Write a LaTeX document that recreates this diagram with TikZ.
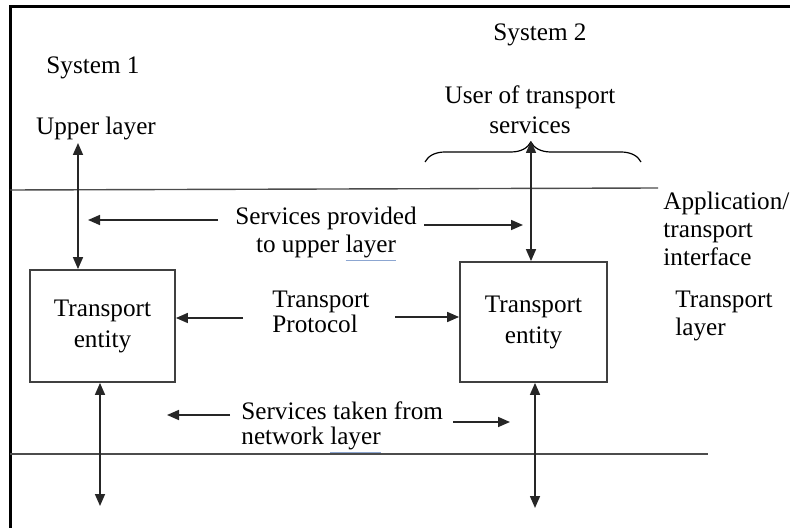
\documentclass[tikz,border=0pt]{standalone}
\usepackage{fontspec}
\setmainfont{Liberation Serif}
\usetikzlibrary{arrows.meta,decorations.pathreplacing}
\definecolor{ulcol}{rgb}{0.55,0.65,0.82}
\newcommand{\spellul}[1]{{\color{ulcol}\underline{\color{black}#1}}}
\begin{document}
\begin{tikzpicture}[x=0.5pt,y=-0.5pt,
  lbl/.style={font=\fontsize{12.6}{14}\selectfont, inner sep=0pt},
  box/.style={draw=black!75, line width=0.9pt, font=\fontsize{12.6}{15.5}\selectfont, align=center, inner sep=0pt},
  arr/.style={-{Triangle[length=6pt,width=5pt]}, line width=0.8pt, draw=black!85},
  biarr/.style={{Triangle[length=6pt,width=5pt]}-{Triangle[length=6pt,width=5pt]}, line width=0.8pt, draw=black!85},
  layerline/.style={line width=0.7pt, draw=black!70}]
\useasboundingbox (0,0) rectangle (790,528);
% frame
\draw[line width=1.5pt] (10,530) -- (10,7) -- (792,7);
% layer lines
\coordinate (l1a) at (10,190); \coordinate (l1b) at (658,188);
\coordinate (l2a) at (10,454); \coordinate (l2b) at (708,454);
\draw[layerline] (l1a) -- (l1b);
\draw[layerline] (l2a) -- (l2b);
% labels
\node[lbl] (sys1) at (93,68) {System 1};
\node[lbl] (sys2) at (540,35) {System 2};
\node[lbl] (upper) at (96,128) {Upper layer};
\node[lbl, align=center, font=\fontsize{12.6}{15}\selectfont] (user) at (530,110) {User of transport\\services};
\node[lbl, align=center] (sprov) at (326,234) {Services provided\\to upper \spellul{layer}};
\node[lbl, align=left, font=\fontsize{12.6}{12.5}\selectfont] (tprot) at (272,312) [anchor=west] {Transport\\Protocol};
\node[lbl, align=left] (tlayer) at (675,316) [anchor=west] {Transport\\layer};
\node[lbl, align=left, font=\fontsize{12.6}{12.5}\selectfont] (staken) at (241,428) [anchor=west] {Services taken from\\network \spellul{layer}};
\node[lbl, align=left] (appif) at (663,229) [anchor=west] {Application/\\transport\\interface};
% boxes
\node[box, minimum width=72.5pt, minimum height=56pt] (box1) at (102.5,326) {Transport\\entity};
\node[box, minimum width=73.5pt, minimum height=60pt] (box2) at (533.5,322) {Transport\\entity};
% brace
\coordinate (brL) at (425,162);
\coordinate (brR) at (641,162);
\draw[line width=0.6pt, decorate, decoration={brace, amplitude=10pt, aspect=0.49}] (brL) -- (brR);
\coordinate (brtip) at (531,141);
% vertical arrows
\coordinate (upA) at (78,143);
\draw[biarr] (upA) -- (box1.north -| upA);
\draw[biarr] (brtip) -- (box2.north -| brtip);
\coordinate (dn1) at (100,506);
\coordinate (dn2) at (535,508);
\draw[biarr] (box1.south -| dn1) -- (dn1);
\draw[biarr] (box2.south -| dn2) -- (dn2);
% horizontal arrows
\coordinate (sp1) at (218,220); \coordinate (sp1e) at (88,220);
\coordinate (sp2) at (424,225); \coordinate (sp2e) at (523,225);
\draw[arr] (sp1) -- (sp1e);
\draw[arr] (sp2) -- (sp2e);
\coordinate (tp1) at (243,318);
\coordinate (tp2) at (395,317);
\draw[arr] (tp1) -- (box1.east |- tp1);
\draw[arr] (tp2) -- (box2.west |- tp2);
\coordinate (st1) at (230,415); \coordinate (st1e) at (167,415);
\coordinate (st2) at (453,422); \coordinate (st2e) at (510,422);
\draw[arr] (st1) -- (st1e);
\draw[arr] (st2) -- (st2e);
\end{tikzpicture}
\end{document}
